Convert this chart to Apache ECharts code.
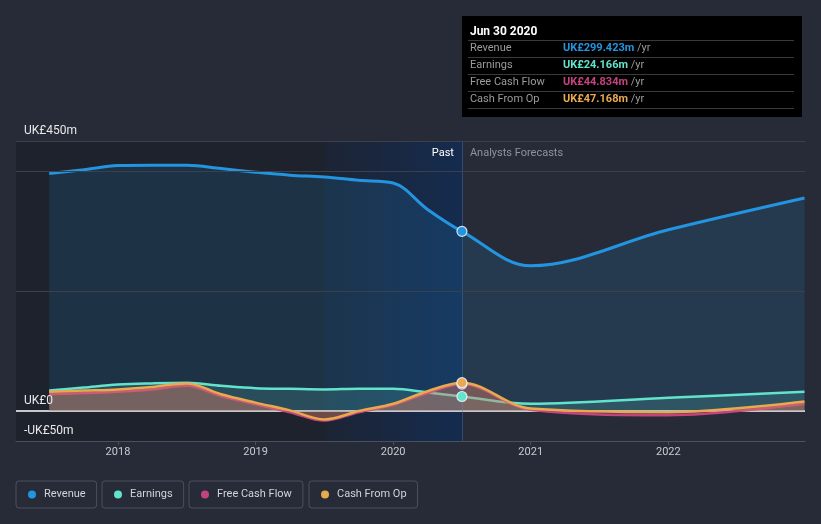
<!DOCTYPE html>
<html><head><meta charset="utf-8">
<script src="https://cdn.jsdelivr.net/npm/echarts@6/dist/echarts.min.js"></script>
<style>html,body{margin:0;padding:0;background:#262b37;}#c{width:821px;height:524px;}</style>
</head><body><div id="c"></div>
<script>
// ---- data ----
const years        = [2017.5, 2017.75, 2018, 2018.25, 2018.5, 2018.75, 2019, 2019.25, 2019.5, 2019.75, 2020, 2020.25, 2020.5, 2021, 2022, 2022.99];
const revenue      = [396, 402, 409, 409.5, 409.5, 404, 398, 393, 390, 384.5, 380, 336, 299.423, 242, 302, 355];
const earnings     = [34, 39, 44, 46, 47, 42, 38, 37, 36, 37, 37, 31, 24.166, 12, 22, 32];
const freeCashFlow = [28, 30, 32, 36, 42, 25, 11, -2, -16, -2, 10, 30, 44.834, 2, -7, 12];
const cashFromOp   = [32, 34, 36, 40, 46, 28, 14, 1, -14, 0, 12, 33, 47.168, 4, -2, 16];
const seriesNames  = ['Revenue', 'Earnings', 'Free Cash Flow', 'Cash From Op'];
const xTickYears   = [2018, 2019, 2020, 2021, 2022];
const yLabelValues = [-50, 0, 450];
const cursorIndex  = 12;
const cursorLabel  = 'Jun 30 2020';
const pastStartYear = 2019.5;
const xMin = 2017.2587, xMax = 2022.9935;

const colors = ['#2394df', '#62e3cc', '#c4437e', '#e9a94e'];
const values = [revenue, earnings, freeCashFlow, cashFromOp];

function money(v){ return v === 0 ? 'UK£0' : (v < 0 ? '-' : '') + 'UK£' + Math.abs(v) + 'm'; }

const chart = echarts.init(document.getElementById('c'));
const splitColors = [];
for (let v = -50; v <= 450; v += 50) splitColors.push((v === 200 || v === 400 || v === 450) ? '#3b404c' : 'rgba(0,0,0,0)');

const cursorYear = years[cursorIndex];
const series = values.map((arr, i) => ({
  name: seriesNames[i],
  type: 'line',
  smooth: 0.35,
  data: years.map((y, k) => [y, arr[k]]),
  symbol: 'none',
  itemStyle: { color: colors[i] },
  lineStyle: { color: colors[i], width: i === 0 ? 3 : 2.5 },
  areaStyle: { color: colors[i], opacity: [0.15, 0.16, 0.25, 0.25][i] },
  z: 2 + i
}));
series[0].markArea = {
  silent: true, z: 1,
  data: [
    [{ xAxis: xMin, itemStyle: { color: 'rgba(0,0,0,0.2)' } }, { xAxis: cursorYear }],
    [{ xAxis: pastStartYear, itemStyle: { color: { type: 'linear', x: 0, y: 0, x2: 1, y2: 0,
      colorStops: [{ offset: 0, color: 'rgba(10,55,120,0.1)' }, { offset: 1, color: 'rgba(10,55,120,0.46)' }] } } },
     { xAxis: cursorYear }]
  ]
};
series[0].markLine = {
  silent: true, symbol: 'none', z: 1.5, label: { show: false },
  data: [
    { yAxis: 0, lineStyle: { color: '#ffffff', width: 1.5, type: 'solid' } },
    { xAxis: cursorYear, lineStyle: { color: 'rgba(70,110,170,0.45)', width: 1, type: 'solid' } }
  ]
};
// highlighted points at the cursor date
values.forEach((arr, i) => series.push({
  name: seriesNames[i] + ' point', type: 'scatter', z: 20, silent: true,
  data: [[cursorYear, arr[cursorIndex]]], symbol: 'circle', symbolSize: 10,
  itemStyle: { color: colors[i], borderColor: 'rgba(235,240,250,0.9)', borderWidth: 1.2, opacity: 1 }
}));

const legends = seriesNames.map((n, i) => ({
  data: [n], left: [16, 102, 189, 309][i], top: 481,
  icon: 'circle', itemWidth: 8, itemHeight: 8,
  borderColor: '#4b515d', borderWidth: 1, borderRadius: 3,
  padding: [8, 11, 8, 12], selectedMode: false,
  textStyle: { color: '#d2d4d8', fontSize: 11, fontFamily: 'Roboto', padding: [0, 0, 0, 3] }
}));

chart.setOption({
  animation: false,
  backgroundColor: '#262b37',
  grid: { left: 16, right: 16, top: 141, bottom: 83 },
  legend: legends,
  xAxis: {
    type: 'value', min: xMin, max: xMax,
    splitLine: { show: false },
    axisLine: { show: true, onZero: false, lineStyle: { color: '#4a505c' } },
    axisTick: { show: true, length: 4, customValues: xTickYears, lineStyle: { color: '#4a505c' } },
    axisLabel: { customValues: xTickYears, color: '#c9cbcf', fontSize: 11, fontFamily: 'Roboto', margin: 6, formatter: v => String(v) }
  },
  yAxis: {
    type: 'value', min: -50, max: 450, interval: 50, z: 10,
    axisLine: { show: false }, axisTick: { show: false },
    splitLine: { show: true, lineStyle: { color: splitColors, width: 1 } },
    axisLabel: {
      inside: true, margin: 8, verticalAlign: 'bottom', padding: [0, 0, 4, 0],
      color: '#e8e8e8', fontSize: 12, fontFamily: 'Roboto',
      formatter: v => yLabelValues.includes(v) ? money(v) : ''
    }
  },
  series: series
});

// overlay: period labels + info box, placed from the axis scale
const cx = chart.convertToPixel({ xAxisIndex: 0 }, cursorYear);
const topY = chart.convertToPixel({ yAxisIndex: 0 }, 450);
const children = [
  { type: 'rect', shape: { x: 0, y: 0, width: 340, height: 101 }, style: { fill: '#000000' } },
  { type: 'text', x: 8, y: 16, style: { text: cursorLabel, fill: '#ffffff', font: 'bold 12px Roboto', verticalAlign: 'middle' } }
];
[24, 41, 58, 75, 92].forEach(y => children.push({ type: 'line', shape: { x1: 6, y1: y + 0.5, x2: 332, y2: y + 0.5 }, style: { stroke: '#3a3a3a', lineWidth: 1 } }));
seriesNames.forEach((n, i) => {
  const y = 32.5 + i * 17;
  children.push({ type: 'text', x: 8, y: y, style: { text: n, fill: '#9b9b9b', font: '11px Roboto', verticalAlign: 'middle' } });
  children.push({ type: 'text', x: 101, y: y, style: {
    text: '{v|' + 'UK£' + values[i][cursorIndex].toFixed(3) + 'm}{u| /yr}', verticalAlign: 'middle',
    rich: { v: { fill: colors[i], font: 'bold 11px Roboto' }, u: { fill: '#9b9b9b', font: '11px Roboto' } } } });
});

chart.setOption({
  graphic: [
    { type: 'text', x: cx - 8, y: topY + 12, z: 20, style: { text: 'Past', fill: '#ffffff', font: '11px Roboto', align: 'right', verticalAlign: 'middle' } },
    { type: 'text', x: cx + 8, y: topY + 12, z: 20, style: { text: 'Analysts Forecasts', fill: '#8f939b', font: '11px Roboto', align: 'left', verticalAlign: 'middle' } },
    { type: 'group', x: cx, y: 16, z: 30, children: children }
  ]
});
</script></body></html>
